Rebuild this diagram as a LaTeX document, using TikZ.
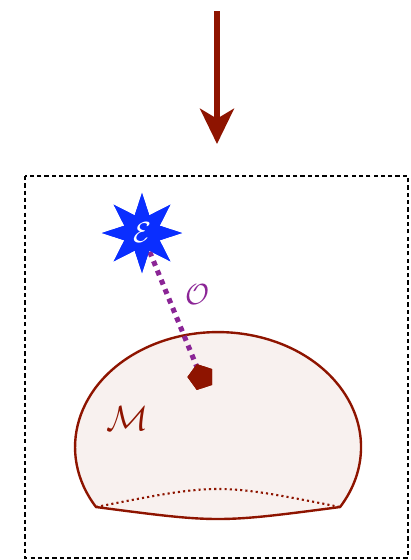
\documentclass[tikz,border=0pt]{standalone}
\usepackage{amsmath}
\usepackage{amssymb}
\usepackage{xcolor}
\usepackage{tikz}
\usetikzlibrary{arrows.meta,positioning,shapes.geometric,calc}
\definecolor{rust}{HTML}{8E1400}
\definecolor{skin}{HTML}{F8F1EF}
\definecolor{bolt}{HTML}{0A2EFF}
\definecolor{plum}{HTML}{8B2596}

\begin{document}
\begin{tikzpicture}[
				x=0.025cm,y=-0.025cm,
				frame/.style={draw=black,line width=1.1pt,dash pattern=on 3pt off 2.2pt},
				source/.style={star,star points=8,star point ratio=2.1,fill=bolt,draw=none,
						inner sep=0pt,minimum size=2cm,text=white,font=\huge},
				probe/.style={regular polygon,regular polygon sides=5,fill=rust,draw=none,
						inner sep=0pt,minimum size=0.68cm,rotate=18},
				link/.style={plum,line width=3.6pt,dash pattern=on 3.6pt off 3.6pt},
				shell/.style={draw=rust,line width=1.7pt,fill=skin},
				rim/.style={rust,line width=1.5pt,dash pattern=on 1.5pt off 2.2pt},
				flow/.style={-{Stealth[length=25pt,width=24pt,inset=7pt]},line width=4.3pt,rust}]

				\useasboundingbox (0,0) rectangle (410,560);

				% incoming beam
				\coordinate (top) at (217,11);
				\coordinate (tip) at (217,144);
				\draw[flow] (top) -- (tip);

				% box
				\draw[frame] (25,176) rectangle (408,558);

				% dome
				\coordinate (bl) at (96,507);
				\coordinate (br) at (340,507);
				\draw[shell] (bl) arc[start angle=148.6,end angle=391.4,x radius=143,y radius=115]
						.. controls (218,523) .. (bl) -- cycle;
				\draw[rim] (bl) .. controls (218,483) .. (br);
				\node[rust,font=\fontsize{23}{26}\selectfont] (mlab) at (128,419) {$\mathcal{M}$};

				% emitter and probe
				\node[probe] (pt) at (201,377) {};
				\node[source] (em) at (142,233) {};
				\draw[link] (em.center) -- (pt.center);
				\node[probe] at (pt) {};
				\node[source] at (em) {$\mathcal{E}$};
				\node[plum,font=\huge] (olab) at (198,295) {$\mathcal{O}$};
			\end{tikzpicture}
\end{document}
